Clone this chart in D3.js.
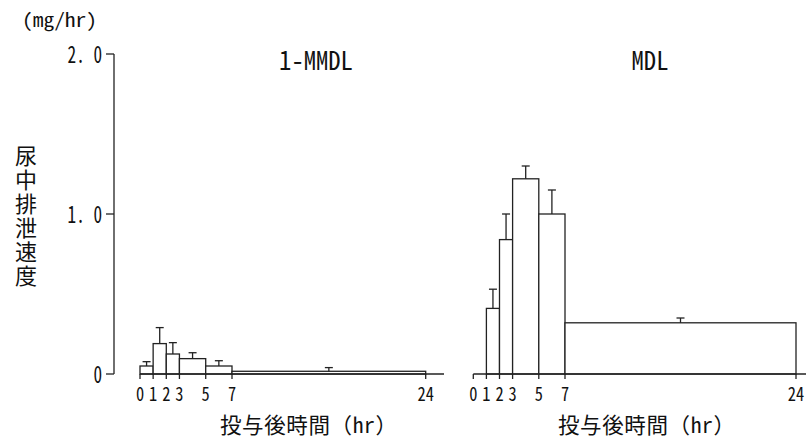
<!DOCTYPE html>
<html><head><meta charset="utf-8">
<script src="https://cdn.jsdelivr.net/npm/d3@7"></script>
<style>
html,body{margin:0;padding:0;background:#fff;}
text{font-family:"Noto Sans Mono CJK JP","Noto Sans CJK JP",sans-serif;fill:#111;}
</style></head>
<body>
<svg id="c" width="808" height="439"></svg>
<script>
// ---- data ----
const binStarts = [0, 1, 2, 3, 5, 7];
const binEnds   = [1, 2, 3, 5, 7, 24];
const xTickValues = [0, 1, 2, 3, 5, 7, 24];
const yTickValues = [0, 1, 2];
const yTickLabels = ["0", "1. 0", "2. 0"];
const panelTitles = ["1-MMDL", "MDL"];
const mmdlMean = [0.05, 0.19, 0.125, 0.096, 0.05, 0.017];
const mmdlErr  = [0.077, 0.29, 0.196, 0.133, 0.083, 0.04];
const mdlMean  = [0, 0.41, 0.84, 1.22, 1.0, 0.32];
const mdlErr   = [0, 0.53, 1.0, 1.30, 1.15, 0.35];
const yUnit = "(mg/hr)";
const yTitle = "尿中排泄速度";
const xTitle = "投与後時間（hr）";

const svg = d3.select("#c");
const y = d3.scaleLinear().domain([0, 2]).range([374, 54]);

// y axis
const yAxisX = 114;
svg.append("line").attr("x1", yAxisX).attr("x2", yAxisX).attr("y1", y(2)).attr("y2", y(0))
  .attr("stroke", "#222").attr("stroke-width", 1.3);
yTickValues.forEach((v, i) => {
  svg.append("line").attr("x1", yAxisX - 8).attr("x2", yAxisX).attr("y1", y(v)).attr("y2", y(v))
    .attr("stroke", "#222").attr("stroke-width", 1.3);
  const lab = yTickLabels[i];
  svg.append("text").attr("x", 102).attr("y", y(v) + 9).attr("text-anchor", "end")
    .attr("font-size", 24).attr("textLength", lab.length * 8.6).attr("lengthAdjust", "spacingAndGlyphs")
    .text(lab);
});

svg.append("text").attr("x", 22).attr("y", 27).attr("font-size", 19)
  .attr("textLength", 75).attr("lengthAdjust", "spacingAndGlyphs").text(yUnit);

svg.append("text").attr("x", 26).attr("y", 145)
  .style("writing-mode", "vertical-rl").style("letter-spacing", "2px")
  .attr("font-size", 22).text(yTitle);

const panels = [
  {title: panelTitles[0], mean: mmdlMean, err: mmdlErr, range: [140, 232, 425.7], axisEnd: 444, titleX: 316, xlabX: 220},
  {title: panelTitles[1], mean: mdlMean, err: mdlErr, range: [473.3, 565, 796], axisEnd: 806, titleX: 650, xlabX: 558}
];

panels.forEach(p => {
  const x = d3.scaleLinear().domain([0, 7, 24]).range(p.range);
  const g = svg.append("g");
  // bars
  binStarts.forEach((s, i) => {
    if (p.mean[i] <= 0) return;
    g.append("rect").attr("x", x(s)).attr("y", y(p.mean[i]))
      .attr("width", x(binEnds[i]) - x(s)).attr("height", y(0) - y(p.mean[i]))
      .attr("fill", "#fff").attr("stroke", "#222").attr("stroke-width", 1.3);
    const cx = x((s + binEnds[i]) / 2);
    g.append("line").attr("x1", cx).attr("x2", cx).attr("y1", y(p.mean[i])).attr("y2", y(p.err[i]))
      .attr("stroke", "#222").attr("stroke-width", 1.3);
    g.append("line").attr("x1", cx - 4).attr("x2", cx + 4).attr("y1", y(p.err[i])).attr("y2", y(p.err[i]))
      .attr("stroke", "#222").attr("stroke-width", 1.3);
  });
  // x axis
  g.append("line").attr("x1", x(0)).attr("x2", p.axisEnd).attr("y1", y(0)).attr("y2", y(0))
    .attr("stroke", "#222").attr("stroke-width", 1.5);
  xTickValues.forEach(v => {
    g.append("line").attr("x1", x(v)).attr("x2", x(v)).attr("y1", y(0)).attr("y2", y(0) + 5)
      .attr("stroke", "#222").attr("stroke-width", 1.3);
    const lab = String(v);
    g.append("text").attr("x", x(v)).attr("y", 401).attr("text-anchor", "middle")
      .attr("font-size", 19).attr("textLength", lab.length * 8.2).attr("lengthAdjust", "spacingAndGlyphs")
      .text(lab);
  });
  // title
  g.append("text").attr("x", p.titleX).attr("y", 70).attr("text-anchor", "middle")
    .attr("font-size", 26).attr("textLength", p.title.length * 12.3).attr("lengthAdjust", "spacingAndGlyphs")
    .text(p.title);
  g.append("text").attr("x", p.xlabX).attr("y", 432.5).attr("font-size", 21.5)
    .attr("textLength", 177).attr("lengthAdjust", "spacing").text(xTitle);
});
</script>
</body></html>
